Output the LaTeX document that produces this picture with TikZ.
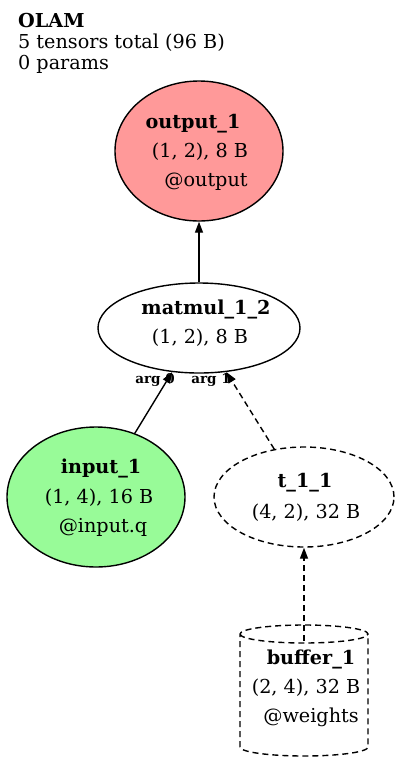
\documentclass[tikz,border=0pt]{standalone}
\usepackage{fontspec}
\setmainfont{DejaVu Serif}
\usetikzlibrary{shapes.geometric,arrows.meta}
\definecolor{outfill}{RGB}{255,153,153}
\definecolor{infill}{RGB}{152,251,152}
\tikzset{
  every node/.style={font=\fontsize{19.2}{23}\selectfont},
  tens/.style={ellipse, draw=black, line width=1.4pt, inner sep=0pt},
  dashedline/.style={dash pattern=on 6pt off 4pt},
  txt/.style={anchor=base, inner sep=0pt},
  hdr/.style={anchor=base west, inner sep=0pt},
  arglbl/.style={anchor=base, inner sep=0pt, font=\fontsize{13.5}{15}\selectfont\bfseries},
  edge/.style={line width=1.4pt, -{Triangle[length=11pt,width=8pt]}},
}
\begin{document}
\begin{tikzpicture}[x=1pt,y=-1pt]
\useasboundingbox[fill=white] (0,0) rectangle (400,764);
% header
\node[hdr] (h1) at (18,27) {\textbf{OLAM}};
\node[hdr] (h2) at (18,48) {5 tensors total (96 B)};
\node[hdr] (h3) at (18,69) {0 params};
% nodes
\node[tens, fill=outfill, minimum width=168pt, minimum height=140pt] (output) at (199,151) {};
\node[txt] (o1) at (193,128) {\textbf{output\_1}};
\node[txt] (o2) at (200,157) {(1, 2), 8 B};
\node[txt] (o3) at (206,186) {@output};

\node[tens, minimum width=202pt, minimum height=90pt] (matmul) at (199,328) {};
\node[txt] (m1) at (206,314) {\textbf{matmul\_1\_2}};
\node[txt] (m2) at (200,343) {(1, 2), 8 B};

\node[tens, fill=infill, minimum width=178pt, minimum height=140pt] (input) at (96,497) {};
\node[txt] (i1) at (101,473) {\textbf{input\_1}};
\node[txt] (i2) at (99,503) {(1, 4), 16 B};
\node[txt] (i3) at (103,532) {@input.q};

\node[tens, dashedline, minimum width=180pt, minimum height=100pt] (t11) at (304,497) {};
\node[txt] (t1) at (305,487) {\textbf{t\_1\_1}};
\node[txt] (t2) at (306,518) {(4, 2), 32 B};

% buffer cylinder
\node[inner sep=0pt, minimum width=128pt, minimum height=132pt] (buffer) at (304,690) {};
\draw[line width=1.4pt, dashedline] (240,634) arc[start angle=180, end angle=360, x radius=64, y radius=-9]
  arc[start angle=0, end angle=180, x radius=64, y radius=-9] -- (240,747)
  arc[start angle=180, end angle=360, x radius=64, y radius=-9] -- (368,634);
\coordinate (bufftop) at (304,641);
\node[txt] (b1) at (311,664) {\textbf{buffer\_1}};
\node[txt] (b2) at (306,693) {(2, 4), 32 B};
\node[txt] (b3) at (311,722) {@weights};

% edges
\draw[edge] (matmul) -- (output);
\draw[edge] (input) -- (matmul);
\draw[edge, dashedline] (t11) -- (matmul);
\draw[edge, dashedline] (bufftop) -- (t11);
\node[arglbl] (a0) at (155,383) {arg 0};
\node[arglbl] (a1) at (211,383) {arg 1};
\end{tikzpicture}
\end{document}
